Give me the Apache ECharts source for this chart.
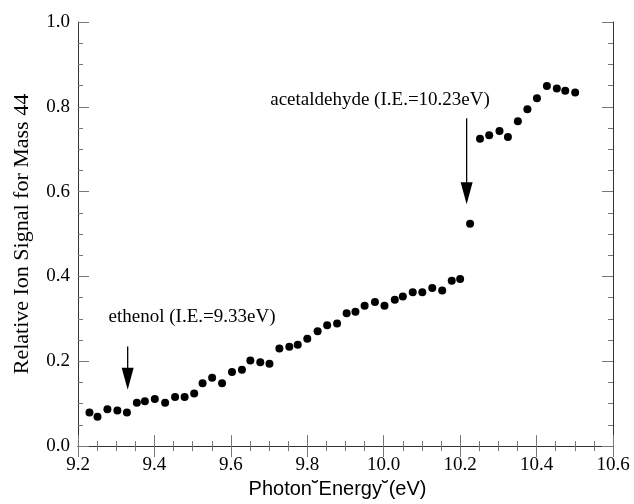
<!DOCTYPE html>
<html>
<head>
<meta charset="utf-8">
<script src="https://cdn.jsdelivr.net/npm/echarts@6/dist/echarts.min.js"></script>
<style>html,body{margin:0;padding:0;background:#fff}#c{width:634px;height:504px}</style>
</head>
<body>
<div id="c"></div>
<script>
// Photon energy (eV)
const energy = [9.230, 9.251, 9.277, 9.303, 9.328, 9.354, 9.375, 9.401, 9.428, 9.454,
  9.479, 9.504, 9.526, 9.551, 9.577, 9.603, 9.629, 9.651, 9.677, 9.701,
  9.727, 9.753, 9.775, 9.800, 9.827, 9.852, 9.878, 9.903, 9.926, 9.950,
  9.977, 10.002, 10.029, 10.050, 10.076, 10.101, 10.127, 10.153, 10.178, 10.200,
  10.226, 10.252, 10.276, 10.303, 10.325, 10.351, 10.376, 10.401, 10.427, 10.453,
  10.475, 10.501];
// Relative ion signal for mass 44
const signal = [0.079, 0.069, 0.087, 0.084, 0.079, 0.102, 0.106, 0.111, 0.102, 0.116,
  0.116, 0.124, 0.148, 0.161, 0.148, 0.175, 0.180, 0.202, 0.198, 0.194,
  0.230, 0.234, 0.239, 0.253, 0.271, 0.285, 0.289, 0.313, 0.317, 0.331,
  0.340, 0.331, 0.345, 0.353, 0.363, 0.363, 0.373, 0.367, 0.390, 0.394,
  0.524, 0.725, 0.733, 0.743, 0.729, 0.766, 0.794, 0.820, 0.849, 0.843,
  0.838, 0.834];
// Annotations (data coordinates)
const noteLabels = ['ethenol (I.E.=9.33eV)', 'acetaldehyde (I.E.=10.23eV)'];
const noteX = [9.28, 9.703];
const noteY = [0.304, 0.817];
const arrowX = [9.33, 10.217];
const arrowTop = [0.235, 0.773];
const arrowTip = [0.133, 0.570];

const xTitle = 'Photon\u02D8Energy\u02D8(eV)';
const yTitle = 'Relative Ion Signal for Mass 44';

const serif = 'Liberation Serif';
const points = energy.map((e, i) => [e, signal[i]]);
const notes = noteLabels.map((t, i) => [arrowX[i], arrowTop[i], arrowTip[i], noteX[i], noteY[i]]);

const tickCommon = {
  axisLine: {show: true, lineStyle: {color: '#333', width: 1}},
  axisTick: {show: true, inside: true, length: 11, lineStyle: {color: '#777', width: 1}},
  minorTick: {show: true, splitNumber: 4, length: 5, lineStyle: {color: '#777', width: 1}},
  splitLine: {show: false}
};

const chart = echarts.init(document.getElementById('c'));
chart.setOption({
  animation: false,
  backgroundColor: '#fff',
  grid: {left: 78, right: 21, top: 22, bottom: 50},
  xAxis: [
    Object.assign({
      type: 'value', min: 9.2, max: 10.6, interval: 0.2, position: 'bottom',
      name: xTitle, nameLocation: 'middle', nameGap: 32,
      nameTextStyle: {fontFamily: 'Liberation Sans', fontSize: 20, color: '#000', padding: [0, 16, 0, 0]},
      axisLabel: {fontFamily: serif, fontSize: 19, color: '#000', margin: 9,
        formatter: v => v.toFixed(1)}
    }, tickCommon),
    Object.assign({
      type: 'value', min: 9.2, max: 10.6, interval: 0.2, position: 'top',
      axisLabel: {show: false}
    }, tickCommon)
  ],
  yAxis: [
    Object.assign({
      type: 'value', min: 0, max: 1, interval: 0.2, position: 'left',
      name: yTitle, nameLocation: 'middle', nameGap: 45,
      nameTextStyle: {fontFamily: serif, fontSize: 22, color: '#000'},
      axisLabel: {fontFamily: serif, fontSize: 19, color: '#000', margin: 8,
        formatter: v => v.toFixed(1)}
    }, tickCommon),
    Object.assign({
      type: 'value', min: 0, max: 1, interval: 0.2, position: 'right',
      axisLabel: {show: false}
    }, tickCommon)
  ],
  series: [
    {
      type: 'scatter', xAxisIndex: 0, yAxisIndex: 0,
      data: points, symbol: 'circle', symbolSize: 8,
      itemStyle: {color: '#000', opacity: 1}
    },
    {
      type: 'custom', xAxisIndex: 0, yAxisIndex: 0, silent: true,
      data: notes,
      renderItem: function (params, api) {
        const top = api.coord([api.value(0), api.value(1)]);
        const tip = api.coord([api.value(0), api.value(2)]);
        const txt = api.coord([api.value(3), api.value(4)]);
        const headLen = 22, headW = 6;
        return {
          type: 'group',
          children: [
            {type: 'line', shape: {x1: top[0], y1: top[1], x2: tip[0], y2: tip[1] - headLen + 1},
              style: {stroke: '#000', lineWidth: 1.3}},
            {type: 'polygon', shape: {points: [[tip[0] - headW, tip[1] - headLen], [tip[0] + headW, tip[1] - headLen], [tip[0], tip[1]]]},
              style: {fill: '#000'}},
            {type: 'text', x: txt[0], y: txt[1],
              style: {text: noteLabels[params.dataIndex], fill: '#000', font: '19px "Liberation Serif"',
                align: 'left', verticalAlign: 'middle'}}
          ]
        };
      }
    }
  ]
});
</script>
</body>
</html>
